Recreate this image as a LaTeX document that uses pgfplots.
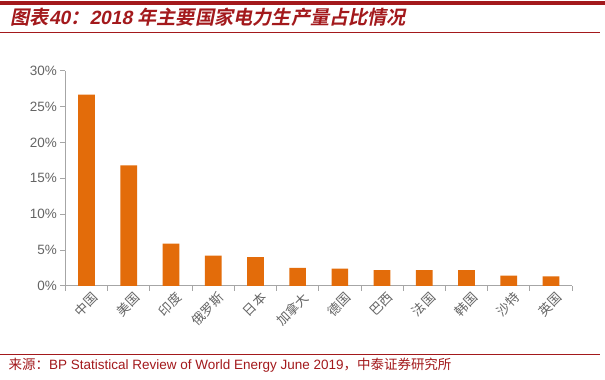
\documentclass[border=0pt]{standalone}
\usepackage{fontspec}
\setmainfont{Liberation Sans}
\newfontfamily\cjk{Noto Sans CJK SC}
\newfontfamily\cjkt[FakeSlant=0.2]{Noto Sans CJK SC Bold}
\newfontfamily\latt[FakeSlant=0.2]{Liberation Sans Bold}
\usepackage{pgfplots}
\pgfplotsset{compat=1.18}
\definecolor{barc}{HTML}{E36C0A}
\definecolor{titc}{HTML}{A3191C}
\definecolor{axc}{HTML}{A6A6A6}
\definecolor{labc}{HTML}{646464}
\begin{document}
\begin{tikzpicture}[x=1pt,y=1pt]
\path[fill=white] (0,0) rectangle (605,380);
% title
\fill[titc] (0,375) rectangle (605,379);
\draw[titc,line width=1pt] (0,347) -- (600,347);
\node[anchor=base west,text=titc,inner sep=0pt] at (10,355) {\fontsize{19.2}{21}\cjkt 图表\latt 40\cjkt ：\latt 2018 \cjkt 年主要国家电力生产量占比情况};
% source
\draw[titc,line width=0.8pt] (0,25) -- (600,25);
\node[anchor=base west,text=titc,inner sep=0pt] at (8,10) {\fontsize{13.5}{15}\cjk 来源：\rmfamily BP Statistical Review of World Energy June 2019\cjk ，中泰证券研究所};
\begin{axis}[
  at={(65pt,94pt)}, anchor=south west,
  scale only axis, width=507pt, height=215pt,
  xmin=-0.5, xmax=11.5, ymin=0, ymax=30,
  axis x line*=bottom, axis y line*=left,
  axis line style={draw=axc,line width=0.9pt,-},
  xtick={0,...,11},
  xticklabels={中国,美国,印度,俄罗斯,日本,加拿大,德国,巴西,法国,韩国,沙特,英国},
  xticklabel style={font=\fontsize{13}{14}\cjk, text=labc, rotate=45, anchor=north east, inner sep=1pt, xshift=4pt, yshift=-2pt},
  major x tick style={draw=none},
  minor xtick={-0.5,0.5,...,11.5},
  minor x tick style={draw=axc,line width=0.9pt},
  minor tick length=5pt,
  ytick={0,5,...,30},
  yticklabel={\pgfmathprintnumber{\tick}\%},
  yticklabel style={font=\fontsize{13.5}{14}\selectfont, text=labc},
  /pgf/number format/assume math mode=true,
  major y tick style={draw=axc,line width=0.9pt},
  major tick length=5pt,
  tick align=outside,
  clip=false,
]
\addplot[ybar, bar width=16.7pt, fill=barc, draw=none] coordinates {
(0,26.7) (1,16.8) (2,5.9) (3,4.2) (4,4.0) (5,2.5) (6,2.4) (7,2.2) (8,2.2) (9,2.2) (10,1.4) (11,1.3)};
\end{axis}
\end{tikzpicture}
\end{document}
